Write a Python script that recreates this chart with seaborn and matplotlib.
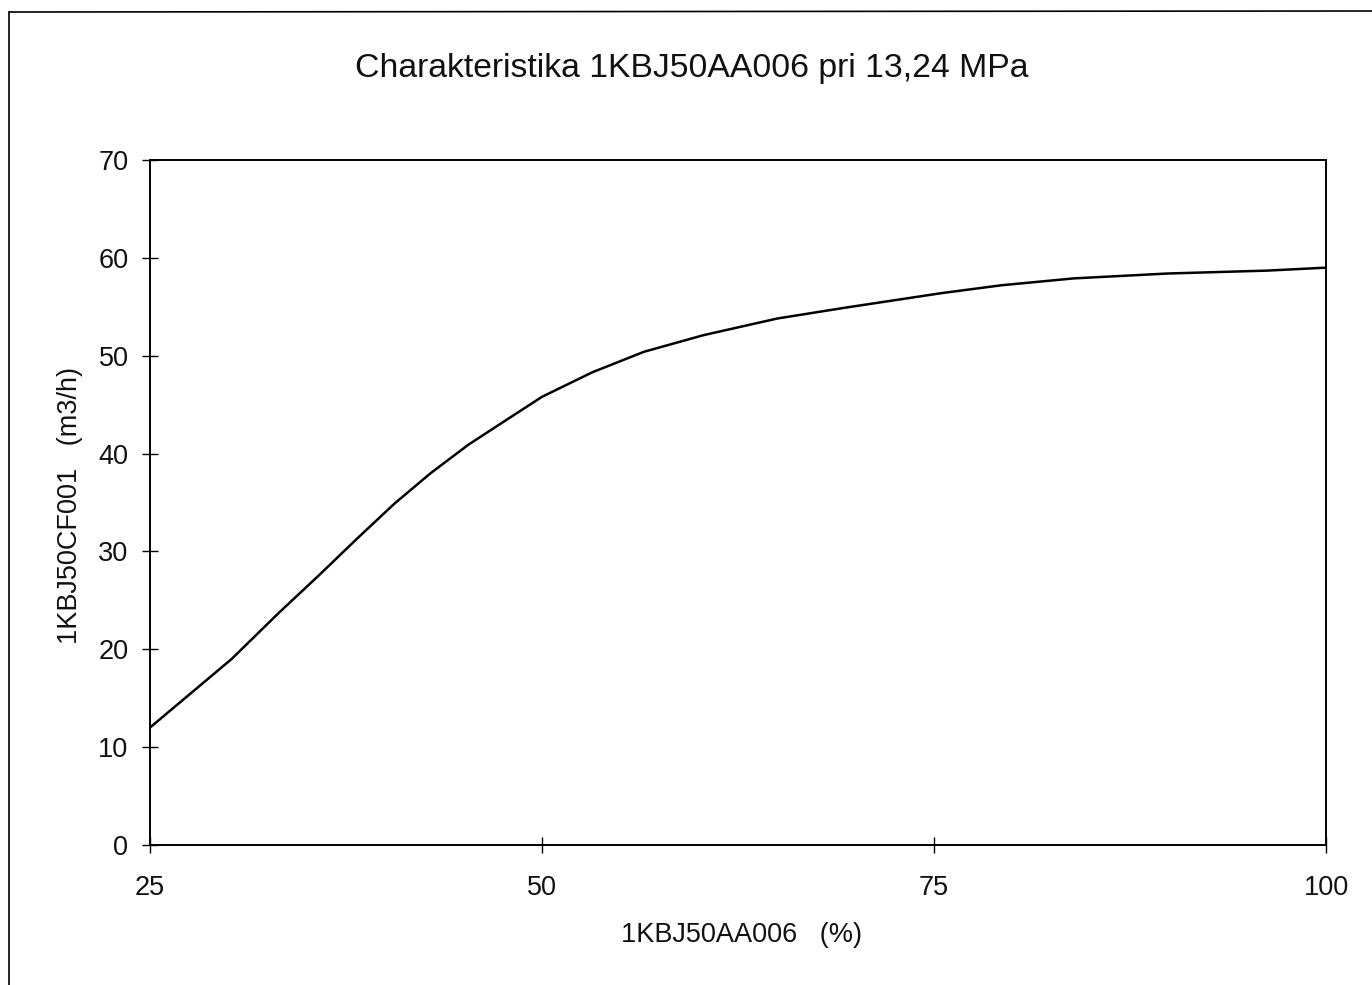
import matplotlib
matplotlib.use("Agg")
import matplotlib.pyplot as plt
from matplotlib.lines import Line2D
import seaborn as sns
import pandas as pd

# Valve characteristic: opening (%) vs flow (m3/h)
opening_pct = [25, 30.2, 33.2, 35.8, 38.2, 40.6, 42.9, 45.3, 47.5, 50.0,
               53.2, 56.5, 60.3, 65.0, 69.3, 75.5, 79.3, 83.9, 89.9, 96.3, 100]
flow_m3h = [12.0, 19.0, 23.7, 27.6, 31.3, 34.9, 38.0, 40.9, 43.2, 45.8,
            48.3, 50.4, 52.1, 53.8, 54.9, 56.4, 57.2, 57.9, 58.4, 58.7, 59.0]
x_ticks = [25, 50, 75, 100]
y_ticks = [0, 10, 20, 30, 40, 50, 60, 70]

title = "Charakteristika 1KBJ50AA006 pri 13,24 MPa"
x_label = "1KBJ50AA006   (%)"
y_label = "1KBJ50CF001   (m3/h)"

sns.set_style("white")
plt.rcParams["font.family"] = ["Liberation Sans", "DejaVu Sans"]

df = pd.DataFrame({"opening": opening_pct, "flow": flow_m3h})

W, H = 1372, 985
fig = plt.figure(figsize=(W / 100, H / 100), dpi=100)
ax = fig.add_axes([150 / W, 1 - 845 / H, (1326 - 150) / W, (845 - 160) / H])

sns.lineplot(data=df, x="opening", y="flow", ax=ax, color="black", linewidth=1.8)

ax.set_xlim(25, 100)
ax.set_ylim(0, 70)
ax.set_xticks(x_ticks)
ax.set_yticks(y_ticks)
ax.tick_params(axis="both", which="major", bottom=True, left=True,
               direction="inout", length=11, width=1.0,
               color="black", labelsize=19.5, labelcolor="#111111")
ax.tick_params(axis="x", pad=16)
ax.tick_params(axis="y", pad=10)
for s in ax.spines.values():
    s.set_visible(True)
    s.set_color("black")
    s.set_linewidth(1.4)

ax.set_xlabel(x_label, fontsize=19.5, color="#111111", va="top")
ax.xaxis.set_label_coords(0.5026, -0.1124)
ax.set_ylabel(y_label, fontsize=19.5, color="#111111")
ax.yaxis.set_label_coords(-0.057, 0.496)

fig.text(692 / W, 1 - 68 / H, title, ha="center", va="center",
         fontsize=24.3, color="#111111")

# Page frame: left and top border lines
fig.add_artist(Line2D([9 / W, 9 / W], [0, 1 - 12 / H],
                      transform=fig.transFigure, color="black", linewidth=1.2))
fig.add_artist(Line2D([9 / W, 1], [1 - 12 / H, 1 - 11 / H],
                      transform=fig.transFigure, color="black", linewidth=1.2))

fig.savefig("out.png", dpi=100, facecolor="white")
